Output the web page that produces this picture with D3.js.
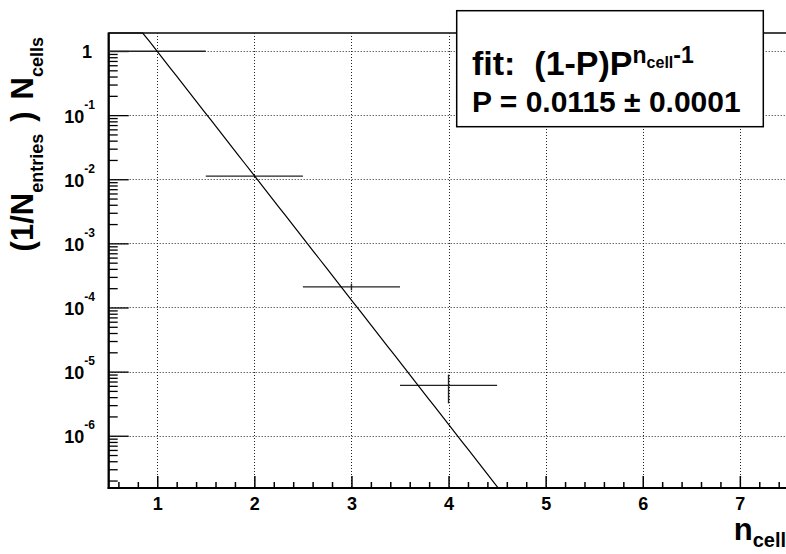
<!DOCTYPE html>
<html>
<head>
<meta charset="utf-8">
<script src="https://cdn.jsdelivr.net/npm/d3@7"></script>
<style>
  html, body { margin: 0; padding: 0; background: #fff; }
  svg { display: block; font-family: "Liberation Sans", Arial, Helvetica, sans-serif; font-weight: bold; }
</style>
</head>
<body>
<svg id="chart" width="786" height="554"></svg>
<script>
// Cell multiplicity distribution, normalised to the number of entries
const binCenters = [1, 2, 3, 4];
const binHalfWidth = 0.5;
const values = [0.99, 0.0112, 2.1e-4, 6.1e-6];
const errors = [0.002, 0.0001, 2.5e-5, 2.9e-6];

// Fit result: (1-P) P^(n_cell - 1)
const fitP = 0.0115;
const fitPErr = 0.0001;

// Axis ranges and tick labels
const xDomain = [0.5, 7.5];
const yDomain = [1.53e-7, 1.91];
const xMajorTicks = [1, 2, 3, 4, 5, 6, 7];
const yMajorTicks = [1e-6, 1e-5, 1e-4, 1e-3, 1e-2, 1e-1, 1];
const yExponents = [-6, -5, -4, -3, -2, -1, 0];

const svg = d3.select("#chart");

const frame = { left: 108.7, right: 788.4, top: 33, bottom: 488 };

const x = d3.scaleLinear().domain(xDomain).range([frame.left, frame.right]);
const y = d3.scaleLog().domain(yDomain).range([frame.bottom, frame.top]);

svg.append("defs").append("clipPath").attr("id", "frameClip")
  .append("rect")
  .attr("x", frame.left).attr("y", frame.top - 2)
  .attr("width", frame.right - frame.left).attr("height", frame.bottom - frame.top + 2);

// Frame border
svg.append("rect")
  .attr("x", frame.left).attr("y", frame.top)
  .attr("width", frame.right - frame.left).attr("height", frame.bottom - frame.top)
  .attr("fill", "none").attr("stroke", "#444").attr("stroke-width", 2);

// Dotted grid
const grid = svg.append("g").attr("stroke", "#222").attr("stroke-width", 1)
  .attr("stroke-dasharray", "1,2");
grid.selectAll("line.gx").data(xMajorTicks).join("line")
  .attr("x1", d => Math.round(x(d)) + 0.5).attr("x2", d => Math.round(x(d)) + 0.5)
  .attr("y1", frame.top).attr("y2", frame.bottom);
grid.selectAll("line.gy").data(yMajorTicks).join("line")
  .attr("x1", frame.left).attr("x2", frame.right)
  .attr("y1", d => Math.round(y(d)) + 0.5).attr("y2", d => Math.round(y(d)) + 0.5);

// X axis: major ticks at integers, minor every 0.2
const xMinor = d3.range(6, 75, 2).map(v => v / 10).filter(v => Math.abs(v - Math.round(v)) > 1e-9);
const xAxisMajor = d3.axisBottom(x).tickValues(xMajorTicks).tickSizeInner(-12).tickSizeOuter(0)
  .tickFormat(d3.format("d")).tickPadding(9);
const xAxisMinor = d3.axisBottom(x).tickValues(xMinor).tickSizeInner(-6).tickSizeOuter(0).tickFormat("");

const gxMinor = svg.append("g").attr("transform", `translate(0,${frame.bottom})`).call(xAxisMinor);
const gx = svg.append("g").attr("transform", `translate(0,${frame.bottom})`).call(xAxisMajor);
[gx, gxMinor].forEach(g => {
  g.select(".domain").remove();
  g.selectAll(".tick line").attr("stroke", "#000").attr("stroke-width", 1.5);
});
gx.selectAll(".tick text")
  .attr("font-size", 18).attr("font-weight", "bold").attr("fill", "#000")
  .attr("font-family", "Liberation Sans, Arial, sans-serif");

// Y axis: decade majors, minors at 2..9 per decade
const yMinor = [];
for (let e = -7; e <= 0; e++) {
  for (let m = 2; m <= 9; m++) {
    const v = m * Math.pow(10, e);
    if (v > yDomain[0] && v < yDomain[1]) yMinor.push(v);
  }
}
const yAxisMajor = d3.axisLeft(y).tickValues(yMajorTicks).tickSizeInner(-20).tickSizeOuter(0).tickFormat("");
const yAxisMinor = d3.axisLeft(y).tickValues(yMinor).tickSizeInner(-9).tickSizeOuter(0).tickFormat("");
const gyMinor = svg.append("g").attr("transform", `translate(${frame.left},0)`).call(yAxisMinor);
const gy = svg.append("g").attr("transform", `translate(${frame.left},0)`).call(yAxisMajor);
[gy, gyMinor].forEach(g => {
  g.select(".domain").remove();
  g.selectAll(".tick line").attr("stroke", "#000").attr("stroke-width", 1.3);
});

// Y tick labels as powers of ten
const yLabels = svg.append("g").attr("font-weight", "bold").attr("fill", "#000");
yMajorTicks.forEach((v, i) => {
  const e = yExponents[i];
  if (e === 0) {
    yLabels.append("text").attr("x", 92).attr("y", y(v) + 6.5)
      .attr("text-anchor", "end").attr("font-size", 18).text("1");
  } else {
    const t = yLabels.append("text").attr("x", 95).attr("y", y(v) + 7.5)
      .attr("text-anchor", "end").attr("font-size", 18);
    t.append("tspan").text("10");
    t.append("tspan").attr("font-size", 12).attr("dy", -14).text(String(e));
  }
});

// Axis lines
svg.append("line").attr("x1", frame.left).attr("x2", frame.left)
  .attr("y1", frame.top).attr("y2", frame.bottom + 1)
  .attr("stroke", "#000").attr("stroke-width", 2);
svg.append("line").attr("x1", frame.left - 1).attr("x2", frame.right)
  .attr("y1", frame.bottom).attr("y2", frame.bottom)
  .attr("stroke", "#000").attr("stroke-width", 2);

// Data points with error bars
const plot = svg.append("g").attr("clip-path", "url(#frameClip)");
const pts = plot.selectAll("g.pt").data(binCenters.map((c, i) => ({ c, v: values[i], e: errors[i] })))
  .join("g").attr("class", "pt").attr("stroke", "#222").attr("stroke-width", 1.4);
pts.append("line")
  .attr("x1", d => x(d.c - binHalfWidth)).attr("x2", d => x(d.c + binHalfWidth))
  .attr("y1", d => y(d.v)).attr("y2", d => y(d.v));
pts.append("line")
  .attr("x1", d => x(d.c)).attr("x2", d => x(d.c))
  .attr("y1", d => y(d.v + d.e)).attr("y2", d => y(Math.max(d.v - d.e, yDomain[0])));

// Fit function sampled across the axis range, clamped at the top edge
const fitFn = n => (1 - fitP) * Math.pow(fitP, n - 1);
const samples = d3.range(0, 101).map(k => xDomain[0] + k * (xDomain[1] - xDomain[0]) / 100);
const line = d3.line()
  .x(n => x(n))
  .y(n => y(Math.min(fitFn(n), yDomain[1])));
plot.append("path").datum(samples.filter(n => fitFn(n) > yDomain[0] * 1e-3))
  .attr("d", line).attr("fill", "none").attr("stroke", "#000").attr("stroke-width", 1.2);

// Axis titles
const xt = svg.append("text").attr("x", 786).attr("y", 540).attr("text-anchor", "end")
  .attr("font-size", 31).attr("fill", "#000");
xt.append("tspan").text("n");
xt.append("tspan").attr("font-size", 20).attr("dy", 7).text("cell");

const yt = svg.append("text").attr("transform", "translate(33,37) rotate(-90)")
  .attr("text-anchor", "end").attr("font-size", 31).attr("fill", "#000");
yt.append("tspan").text("(1/N");
yt.append("tspan").attr("font-size", 18).attr("dy", 10).text("entries");
yt.append("tspan").attr("dx", 12).attr("dy", -10).text(")");
yt.append("tspan").attr("dx", 12).text("N");
yt.append("tspan").attr("font-size", 18).attr("dy", 10).text("cells");

// Fit result box
const box = svg.append("g");
box.append("rect").attr("x", 456.7).attr("y", 10.7).attr("width", 306.6).attr("height", 116)
  .attr("fill", "#fff").attr("stroke", "#000").attr("stroke-width", 1.5);
const l1 = box.append("text").attr("x", 472).attr("y", 75).attr("font-size", 34).attr("fill", "#000")
  .attr("xml:space", "preserve").style("white-space", "pre");
l1.append("tspan").text("fit:  (1-P)P");
l1.append("tspan").attr("font-size", 23).attr("dy", -12).text("n");
l1.append("tspan").attr("font-size", 16).attr("dy", 5).text("cell");
l1.append("tspan").attr("font-size", 23).attr("dy", -5).text("-1");
box.append("text").attr("x", 472).attr("y", 111.7).attr("font-size", 30).attr("fill", "#000")
  .text(`P = ${fitP.toFixed(4)} \u00B1 ${fitPErr.toFixed(4)}`);
</script>
</body>
</html>
